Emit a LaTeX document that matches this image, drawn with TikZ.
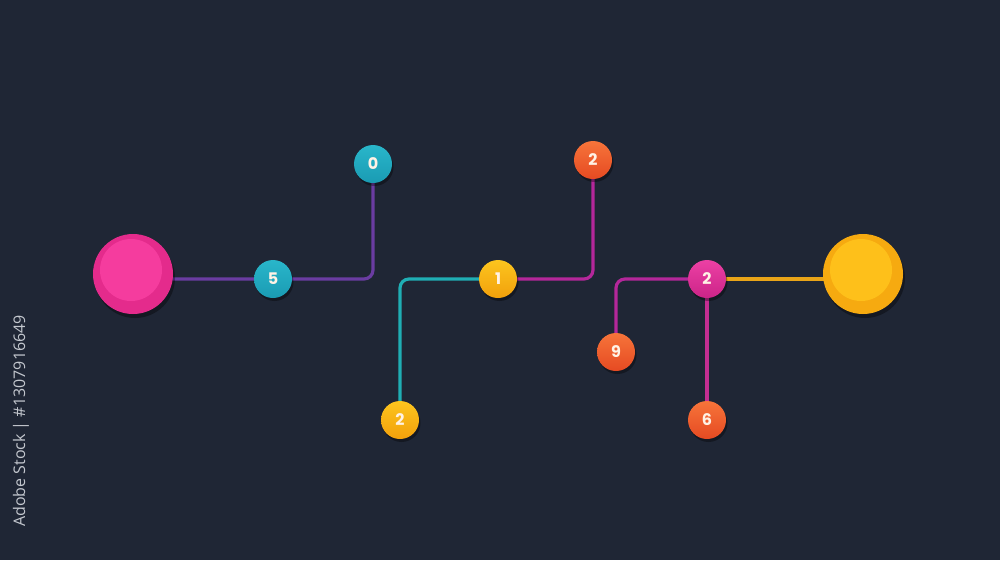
\documentclass[tikz,border=0pt]{standalone}
\usepackage{fontspec}
\setsansfont{Poppins}
\newfontfamily\stockfont{Open Sans}
\usetikzlibrary{positioning,shadows}

\definecolor{navybg}{HTML}{1F2635}
\definecolor{stockgray}{HTML}{C3C7CE}
\definecolor{tealtop}{HTML}{29B6CA}
\definecolor{tealbot}{HTML}{1A9BB3}
\definecolor{ambertop}{HTML}{FCC51E}
\definecolor{amberbot}{HTML}{F2A00C}
\definecolor{orangetop}{HTML}{F6743A}
\definecolor{orangebot}{HTML}{E64A22}
\definecolor{magtop}{HTML}{EC40A4}
\definecolor{magbot}{HTML}{CC2488}
\definecolor{pinkouter}{HTML}{E42B8C}
\definecolor{pinkinner}{HTML}{F53C9E}
\definecolor{yellowouter}{HTML}{F6AA10}
\definecolor{yellowinner}{HTML}{FEC01A}
\definecolor{purplewire}{HTML}{6A3CA2}
\definecolor{tealwire}{HTML}{1FAEB4}
\definecolor{magentawire}{HTML}{B4279A}
\definecolor{pinkwire}{HTML}{C42E92}
\definecolor{orangewire}{HTML}{E9A418}

\pgfdeclarelayer{bg}
\pgfdeclarelayer{lines}
\pgfsetlayers{bg,lines,main}

\tikzset{
  dot/.style={circle, minimum size=38pt, inner sep=0pt,
    font=\sffamily\bfseries\fontsize{16}{16}\selectfont, text=white!90!orange,
    drop shadow={shadow xshift=1.5pt, shadow yshift=-3pt, fill=black, opacity=0.35}},
  teal dot/.style={dot, top color=tealtop, bottom color=tealbot},
  amber dot/.style={dot, top color=ambertop, bottom color=amberbot},
  orange dot/.style={dot, top color=orangetop, bottom color=orangebot},
  magenta dot/.style={dot, top color=magtop, bottom color=magbot},
  big ball/.style={circle, minimum size=80pt, inner sep=0pt, fill=#1outer,
    drop shadow={shadow xshift=2pt, shadow yshift=-4pt, fill=black, opacity=0.35},
    path picture={\fill[#1inner] ([shift={(-2pt,4pt)}]path picture bounding box.center) circle (31pt);}},
  wire/.style={draw=#1, line width=3.2pt, rounded corners=9pt},
}

\begin{document}
\begin{tikzpicture}[x=1pt, y=-1pt, node distance=100pt, on grid]
  \begin{pgfonlayer}{bg}
    \fill[navybg] (0,0) rectangle (1000,560);
  \end{pgfonlayer}

  % the two end balls
  \node[big ball=pink] (pink) at (133,274) {};
  \node[big ball=yellow] (yellow) at (863,274) {};

  % numbered dots
  \node[teal dot] (five) at (273,279) {5};
  \node[teal dot, above right=115pt and 100pt of five] (zero) {0};
  \node[amber dot, right=225pt of five] (one) {1};
  \node[orange dot, above right=119pt and 95pt of one] (twotop) {2};
  \node[amber dot, below left=141pt and 98pt of one] (twobot) {2};
  \node[magenta dot, right=209pt of one] (twomid) {2};
  \node[orange dot, below left=73pt and 91pt of twomid] (nine) {9};
  \node[orange dot, below=141pt of twomid] (six) {6};

  \begin{pgfonlayer}{lines}
    \draw[wire=purplewire] (five -| pink) -- (five) -| (zero);
    \draw[wire=magentawire] (one) -| (twotop);
    \draw[wire=tealwire] (one) -| (twobot);
    \draw[wire=magentawire] (twomid) -| (nine);
    \draw[wire=pinkwire] (twomid) -- (six);
    \draw[wire=orangewire] (twomid) -- (twomid -| yellow);
  \end{pgfonlayer}

  \node[rotate=90, text=stockgray, font=\stockfont\fontsize{16}{16}\selectfont] (credit) at (21,421) {Adobe Stock | \#1307916649};
\end{tikzpicture}
\end{document}
